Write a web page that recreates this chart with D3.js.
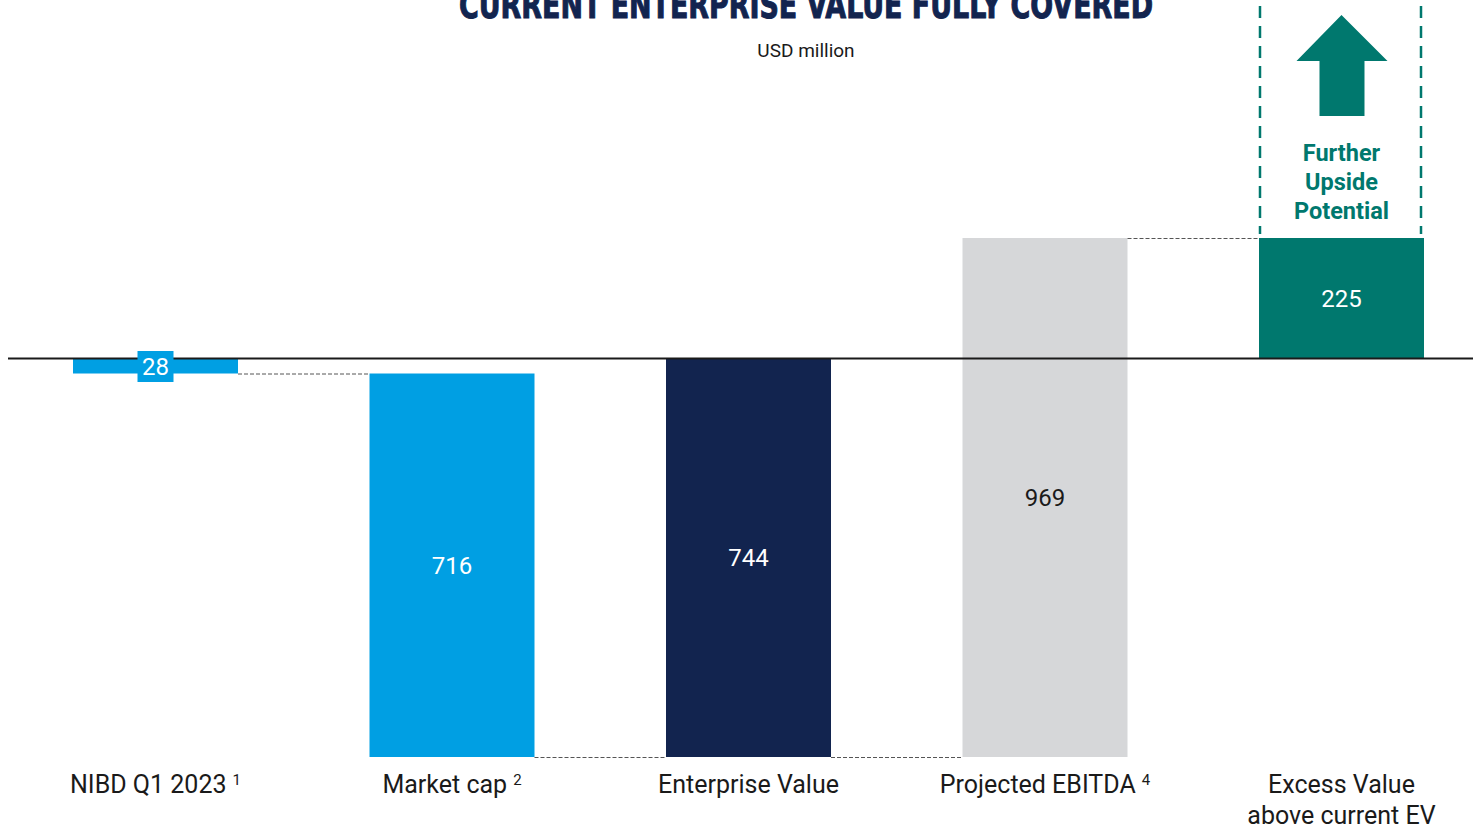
<html>
<head>
<meta charset="utf-8">
<script src="https://cdn.jsdelivr.net/npm/d3@7"></script>
<style>
  body { margin: 0; background: #fff; }
  text { font-family: Roboto, "Open Sans", sans-serif; }
</style>
</head>
<body>
<div id="chartContainer"></div>
<script>
// waterfall data (USD million)
var categories = ["NIBD Q1 2023", "Market cap", "Enterprise Value", "Projected EBITDA", "Excess Value"];
var footnotes  = ["1", "2", "", "4", ""];
var values     = [28, 716, 744, 969, 225];
// start / end of each bar on the value axis (positive = below the line)
var barStart   = [0, 28, 0, -225, -225];
var barEnd     = [28, 744, 744, 744, 0];
var colors     = ["#009fe3", "#009fe3", "#12244f", "#d6d7d9", "#00786e"];
var labelColors = ["#fff", "#fff", "#fff", "#1a1a1a", "#fff"];

var W = 1473, H = 829;
var svg = d3.select("#chartContainer").append("svg")
  .attr("width", W).attr("height", H);

var x = d3.scaleBand().domain(categories).range([73, 1424]).paddingInner(0.4435).paddingOuter(0);
// value axis grows downward from the zero line
var y = d3.scaleLinear().domain([-225, 744]).range([238, 757]);

// title (cut at top in original)
svg.append("text")
  .attr("x", 806).attr("y", 18)
  .attr("text-anchor", "middle")
  .attr("textLength", 694).attr("lengthAdjust", "spacingAndGlyphs")
  .style("font-family", "'DejaVu Sans Condensed', 'Liberation Sans Narrow', sans-serif")
  .style("font-weight", "bold").style("font-size", "38px")
  .attr("fill", "#12244f").attr("stroke", "#12244f").attr("stroke-width", 1)
  .text("CURRENT ENTERPRISE VALUE FULLY COVERED");

svg.append("text")
  .attr("x", 806).attr("y", 57)
  .attr("text-anchor", "middle")
  .style("font-size", "19px").attr("fill", "#1a1a1a")
  .text("USD million");

// bars
svg.selectAll("rect.bar").data(categories).enter().append("rect")
  .attr("class", "bar")
  .attr("x", function(d) { return x(d); })
  .attr("width", x.bandwidth())
  .attr("y", function(d, i) { return y(Math.min(barStart[i], barEnd[i])); })
  .attr("height", function(d, i) { return Math.abs(y(barEnd[i]) - y(barStart[i])); })
  .attr("fill", function(d, i) { return colors[i]; });

// dashed connectors
var links = [[0, 1, 28], [1, 2, 744], [2, 3, 744], [3, 4, -225]];
svg.selectAll("line.link").data(links).enter().append("line")
  .attr("x1", function(d) { return x(categories[d[0]]) + x.bandwidth(); })
  .attr("x2", function(d) { return x(categories[d[1]]); })
  .attr("y1", function(d) { return y(d[2]) + 0.5; })
  .attr("y2", function(d) { return y(d[2]) + 0.5; })
  .attr("stroke", "#555").attr("stroke-width", 1)
  .attr("stroke-dasharray", "4,2");

// zero line
svg.append("line")
  .attr("x1", 8).attr("x2", W)
  .attr("y1", y(0)).attr("y2", y(0))
  .attr("stroke", "#1a1a1a").attr("stroke-width", 2);

// value labels
svg.selectAll("g.val").data(categories).enter().append("g")
  .attr("class", "val")
  .each(function(d, i) {
    var g = d3.select(this);
    var cx = x(d) + x.bandwidth() / 2;
    var cy = i === 0 ? 367 : (y(barStart[i]) + y(barEnd[i])) / 2;
    if (i === 0) {
      g.append("rect").attr("x", cx - 18).attr("y", 351).attr("width", 36).attr("height", 31)
        .attr("fill", colors[0]);
    }
    g.append("text")
      .attr("x", cx).attr("y", cy)
      .attr("dy", "0.35em")
      .attr("text-anchor", "middle")
      .style("font-size", "24px")
      .attr("fill", labelColors[i])
      .text(values[i]);
  });

// category labels
svg.selectAll("text.cat").data(categories).enter().append("text")
  .attr("class", "cat")
  .attr("x", function(d) { return x(d) + x.bandwidth() / 2; })
  .attr("y", 793)
  .attr("text-anchor", "middle")
  .style("font-size", "25px")
  .attr("fill", "#1a1a1a")
  .each(function(d, i) {
    var t = d3.select(this);
    if (i === 4) {
      t.append("tspan").attr("x", x(d) + x.bandwidth() / 2).text("Excess Value");
      t.append("tspan").attr("x", x(d) + x.bandwidth() / 2).attr("dy", 31).text("above current EV");
    } else {
      t.append("tspan").text(d);
      if (footnotes[i]) {
        t.append("tspan").attr("dx", 6).attr("dy", -8).style("font-size", "15px").text(footnotes[i]);
      }
    }
  });

// upside potential box
var ex = x(categories[4]), bw = x.bandwidth(), ecx = ex + bw / 2;
[ex + 1, ex + bw - 3].forEach(function(lx) {
  svg.append("line")
    .attr("x1", lx).attr("x2", lx).attr("y1", 6).attr("y2", 234)
    .attr("stroke", colors[4]).attr("stroke-width", 2.5)
    .attr("stroke-dasharray", "12,8");
});

svg.append("path")
  .attr("d", d3.line()([
    [ecx, 15], [ecx + 46, 61], [ecx + 23, 61], [ecx + 23, 116],
    [ecx - 22, 116], [ecx - 22, 61], [ecx - 45, 61]
  ]) + "Z")
  .attr("fill", colors[4]);

svg.append("text")
  .attr("x", ecx).attr("y", 161)
  .attr("text-anchor", "middle")
  .style("font-size", "23.5px").style("font-weight", "bold")
  .attr("fill", colors[4])
  .selectAll("tspan").data(["Further", "Upside", "Potential"]).enter().append("tspan")
  .attr("x", ecx)
  .attr("dy", function(d, i) { return i === 0 ? 0 : 29; })
  .text(function(d) { return d; });
</script>
</body>
</html>
